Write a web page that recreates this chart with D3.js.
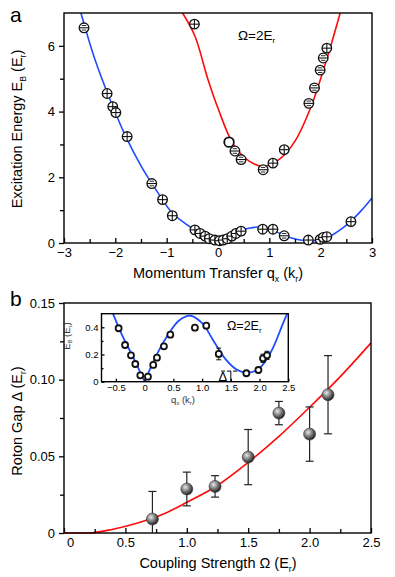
<!DOCTYPE html>
<html>
<head>
<meta charset="utf-8">
<script src="https://cdn.jsdelivr.net/npm/d3@7"></script>
<style>
  body { margin: 0; background: #fff; }
  svg { font-family: "Liberation Sans", Arial, sans-serif; }
  .axis path, .axis line { stroke: #000; stroke-width: 1.3; }
  .axis text { fill: #000; }
</style>
</head>
<body>
<svg width="395" height="577"></svg>
<script>
// ---- panel a: measured points ----
// lower (blue) branch
var lowQ   = [-2.61, -2.16, -2.05, -1.99, -1.77, -1.29, -1.08, -0.89,
              -0.45, -0.35, -0.25, -0.17, -0.06, 0.03, 0.10, 0.18, 0.27, 0.35, 0.45,
              0.87, 1.07, 1.29, 1.76, 1.99, 2.05, 2.12, 2.59];
var lowE   = [6.55, 4.55, 4.15, 3.97, 3.24, 1.81, 1.32, 0.83,
              0.40, 0.29, 0.21, 0.13, 0.09, 0.07, 0.09, 0.13, 0.21, 0.29, 0.36,
              0.42, 0.42, 0.22, 0.09, 0.11, 0.17, 0.19, 0.65];
var lowMark = ["m","p","p","p","p","m","p","p",
              "p","p","p","p","p","p","p","p","p","p","p",
              "p","p","m","p","p","p","p","p"];
// upper (red) branch
var upQ    = [-0.46, 0.215, 0.33, 0.45, 0.88, 1.07, 1.29, 1.77, 1.88, 1.99, 2.05, 2.12];
var upE    = [6.66, 3.07, 2.80, 2.54, 2.23, 2.43, 2.84, 4.25, 4.72, 5.26, 5.63, 5.93];
var upMark = ["p","o","m","m","m","p","p","m","m","m","m","p"];

// fitted dispersion curves
var blueLeftQ  = [-2.67, -2.4, -2.1, -1.8, -1.5, -1.2, -0.9, -0.6, -0.3, 0];
var blueLeftE  = [7.0, 5.6, 4.35, 3.25, 2.35, 1.6, 0.93, 0.55, 0.24, 0];
var blueRightQ = [0, 0.2, 0.4, 0.6, 0.8, 1.0, 1.2, 1.4, 1.6, 1.8, 2.0, 2.2, 2.4, 2.6, 2.8, 3.0];
var blueRightE = [0, 0.19, 0.34, 0.45, 0.485, 0.43, 0.3, 0.17, 0.09, 0.066, 0.1, 0.22, 0.42, 0.68, 1.0, 1.37];
var redQ = [-0.69, -0.45, -0.2, 0, 0.3, 0.6, 0.9, 1.2, 1.5, 1.8, 2.1, 2.38];
var redE = [7.0, 6.3, 5.0, 4.1, 3.0, 2.5, 2.33, 2.55, 3.1, 4.1, 5.5, 7.0];

// ---- panel b: roton gap vs coupling ----
var omega   = [0.72, 1.0, 1.23, 1.5, 1.75, 2.0, 2.15];
var gap     = [0.0091, 0.0287, 0.0304, 0.0495, 0.0782, 0.0645, 0.0902];
var gapErr  = [0.018, 0.011, 0.007, 0.018, 0.0076, 0.0177, 0.0255];
var fitOmega = [0, 0.2, 0.4, 0.6, 0.8, 1.0, 1.25, 1.5, 1.75, 2.0, 2.25, 2.5];
var fitGap   = [0, 0, 0.0025, 0.0065, 0.012, 0.02, 0.031, 0.046, 0.063, 0.082, 0.102, 0.124];

// ---- inset ----
var inQ   = [-0.452, -0.34, -0.237, -0.162, -0.075, 0.058, 0.15, 0.215, 0.336, 0.447,
             0.875, 1.073, 1.29, 1.77, 1.98, 2.06, 2.13];
var inE   = [0.393, 0.27, 0.194, 0.13, 0.047, 0.037, 0.123, 0.177, 0.26, 0.346,
             0.397, 0.412, 0.204, 0.062, 0.086, 0.172, 0.194];
var inErr = [0, 0, 0, 0, 0, 0, 0, 0, 0, 0.02, 0, 0, 0.043, 0, 0, 0.03, 0.03];
var inLeftQ  = [-0.55, -0.4, -0.2, 0];
var inLeftE  = [0.5, 0.35, 0.18, 0];
var inRightQ = [0, 0.2, 0.4, 0.6, 0.8, 1.0, 1.2, 1.4, 1.6, 1.8, 2.0, 2.2, 2.4, 2.48];
var inRightE = [0, 0.19, 0.34, 0.45, 0.485, 0.43, 0.3, 0.17, 0.09, 0.066, 0.1, 0.22, 0.42, 0.5];

var svg = d3.select("svg");
var BLUE = "#1f4dff", RED = "#ff0a0a";

function zip(a, b) { return a.map(function (v, i) { return [v, b[i]]; }); }

// text with subscripts: parts = [[text, isSub], ...]
function richText(g, parts, size) {
  var t = g.append("text").attr("font-size", size).attr("fill", "#000");
  var shifted = false;
  parts.forEach(function (p) {
    var ts = t.append("tspan").text(p[0]);
    if (p[1] && !shifted) { ts.attr("font-size", size * 0.6).attr("dy", size * 0.25); shifted = true; }
    else if (!p[1] && shifted) { ts.attr("dy", -size * 0.25); shifted = false; }
  });
  return t;
}

function frame(g, x0, y0, x1, y1) {
  g.append("rect").attr("x", x0).attr("y", y0).attr("width", x1 - x0).attr("height", y1 - y0)
    .attr("fill", "none").attr("stroke", "#000").attr("stroke-width", 1.4);
}

function axes(g, x, y, opt) {
  var y1 = y.range()[0], x0 = x.range()[0];
  g.append("g").attr("class", "axis").attr("transform", "translate(0," + y1 + ")")
    .call(d3.axisBottom(x).tickValues(opt.xMinor).tickFormat("").tickSizeInner(-opt.minor).tickSizeOuter(0));
  var xa = g.append("g").attr("class", "axis").attr("transform", "translate(0," + y1 + ")")
    .call(d3.axisBottom(x).tickValues(opt.xTicks).tickFormat(opt.xFmt).tickSizeInner(-opt.major).tickSizeOuter(0).tickPadding(opt.pad));
  g.append("g").attr("class", "axis").attr("transform", "translate(" + x0 + ",0)")
    .call(d3.axisLeft(y).tickValues(opt.yMinor).tickFormat("").tickSizeInner(opt.yIn ? -opt.minor : opt.minor).tickSizeOuter(0));
  var ya = g.append("g").attr("class", "axis").attr("transform", "translate(" + x0 + ",0)")
    .call(d3.axisLeft(y).tickValues(opt.yTicks).tickFormat(opt.yFmt).tickSizeInner(opt.yIn ? -opt.major : opt.major).tickSizeOuter(0).tickPadding(opt.ypad));
  g.selectAll(".axis text").attr("font-size", opt.font).attr("font-family", "Liberation Sans, Arial, sans-serif");
  g.selectAll(".axis path").remove();
  return [xa, ya];
}

// ================= panel a =================
var ga = svg.append("g");
var xA = d3.scaleLinear().domain([-3, 3]).range([64, 372]);
var yA = d3.scaleLinear().domain([0, 7]).range([243, 13]);

var lineA = d3.line().x(function (d) { return xA(d[0]); }).y(function (d) { return yA(d[1]); })
  .curve(d3.curveCatmullRom.alpha(0.5));
ga.append("defs").append("clipPath").attr("id", "clipA").append("rect")
  .attr("x", 64).attr("y", 13).attr("width", 308).attr("height", 230);
var curvesA = ga.append("g").attr("clip-path", "url(#clipA)");
[[blueLeftQ, blueLeftE, BLUE], [blueRightQ, blueRightE, BLUE], [redQ, redE, RED]].forEach(function (c) {
  curvesA.append("path").attr("d", lineA(zip(c[0], c[1])))
    .attr("fill", "none").attr("stroke", c[2]).attr("stroke-width", 1.6);
});

axes(ga, xA, yA, {
  xTicks: [-3, -2, -1, 0, 1, 2, 3], xMinor: [-2.5, -1.5, -0.5, 0.5, 1.5, 2.5],
  yTicks: [0, 2, 4, 6], yMinor: [1, 3, 5],
  xFmt: d3.format("d"), yFmt: d3.format("d"),
  major: 5, minor: 4, pad: 5, ypad: 4, font: 13
});
frame(ga, 64, 13, 372, 243);

function markerA(g, q, e, type) {
  var m = g.append("g").attr("transform", "translate(" + xA(q) + "," + yA(e) + ")");
  var r = 4.8;
  m.append("circle").attr("r", r).attr("fill", "#fff").attr("stroke", "#111")
    .attr("stroke-width", type === "o" ? 1.8 : 1.3);
  if (type === "p") {
    m.append("line").attr("x1", -r).attr("x2", r).attr("stroke", "#111").attr("stroke-width", 1.1);
    m.append("line").attr("y1", -r).attr("y2", r).attr("stroke", "#111").attr("stroke-width", 1.1);
  } else if (type === "m") {
    m.append("line").attr("x1", -r).attr("x2", r).attr("stroke", "#111").attr("stroke-width", 1.1);
    [-2.3, 2.3].forEach(function (dy) {
      m.append("line").attr("x1", -2.2).attr("x2", 2.2).attr("y1", dy).attr("y2", dy)
        .attr("stroke", "#111").attr("stroke-width", 0.9);
    });
  }
}
var ptsA = ga.append("g");
lowQ.forEach(function (q, i) { markerA(ptsA, q, lowE[i], lowMark[i]); });
upQ.forEach(function (q, i) { markerA(ptsA, q, upE[i], upMark[i]); });

richText(ga, [["Ω=2E", 0], ["r", 1]], 13.5).attr("x", 238).attr("y", 40);
ga.append("text").attr("x", 10).attr("y", 22).attr("font-size", 21).text("a");
richText(ga, [["Momentum Transfer q", 0], ["x", 1], [" (k", 0], ["r", 1], [")", 0]], 14.5)
  .attr("x", 218).attr("y", 278).attr("text-anchor", "middle");
richText(ga, [["Excitation Energy E", 0], ["B", 1], [" (E", 0], ["r", 1], [")", 0]], 14.5)
  .attr("text-anchor", "middle").attr("transform", "translate(22,129) rotate(-90)");

// ================= panel b =================
var gb = svg.append("g");
var xB = d3.scaleLinear().domain([0, 2.5]).range([64, 371]);
var yB = d3.scaleLinear().domain([0, 0.15]).range([533, 303]);

var defs = svg.append("defs");
var grad = defs.append("radialGradient").attr("id", "ball").attr("cx", "38%").attr("cy", "35%").attr("r", "65%");
grad.append("stop").attr("offset", "0%").attr("stop-color", "#e8e8e8");
grad.append("stop").attr("offset", "55%").attr("stop-color", "#777");
grad.append("stop").attr("offset", "100%").attr("stop-color", "#222");

var lineB = d3.line().x(function (d) { return xB(d[0]); }).y(function (d) { return yB(d[1]); })
  .curve(d3.curveMonotoneX);
gb.append("path").attr("d", lineB(zip(fitOmega, fitGap)))
  .attr("fill", "none").attr("stroke", RED).attr("stroke-width", 1.6);

var axB = axes(gb, xB, yB, {
  xTicks: [0, 0.5, 1, 1.5, 2, 2.5], xMinor: [0.25, 0.75, 1.25, 1.75, 2.25],
  yTicks: [0, 0.05, 0.1, 0.15], yMinor: [0.025, 0.075, 0.125],
  xFmt: function (d) { return d === 0 ? "0" : d3.format(".1f")(d); },
  yFmt: function (d) { return d === 0 ? "0" : d3.format(".2f")(d); },
  major: 5, minor: 4, pad: 5, ypad: 4, font: 13
});
axB[0].selectAll(".tick text").filter(function (d) { return d === 0; }).attr("dx", 6);
frame(gb, 64, 303, 371, 533);

var ptsB = gb.append("g");
omega.forEach(function (o, i) {
  var cx = xB(o), lo = yB(Math.max(0, gap[i] - gapErr[i])), hi = yB(gap[i] + gapErr[i]);
  ptsB.append("line").attr("x1", cx).attr("x2", cx).attr("y1", lo).attr("y2", hi)
    .attr("stroke", "#222").attr("stroke-width", 1.2);
  [lo, hi].forEach(function (yy) {
    if (yy >= 532) return;
    ptsB.append("line").attr("x1", cx - 4).attr("x2", cx + 4).attr("y1", yy).attr("y2", yy)
      .attr("stroke", "#222").attr("stroke-width", 1.2);
  });
  ptsB.append("circle").attr("cx", cx).attr("cy", yB(gap[i])).attr("r", 6)
    .attr("fill", "url(#ball)").attr("stroke", "#333").attr("stroke-width", 0.6);
});

gb.append("text").attr("x", 10).attr("y", 306).attr("font-size", 21).text("b");
richText(gb, [["Coupling Strength Ω (E", 0], ["r", 1], [")", 0]], 14.5)
  .attr("x", 218).attr("y", 568).attr("text-anchor", "middle");
richText(gb, [["Roton Gap Δ (E", 0], ["r", 1], [")", 0]], 14.5)
  .attr("text-anchor", "middle").attr("transform", "translate(22,421) rotate(-90)");

// ================= inset =================
var gi = svg.append("g");
var xI = d3.scaleLinear().domain([-0.75, 2.5]).range([101.5, 288.3]);
var yI = d3.scaleLinear().domain([0, 0.5]).range([381.7, 313.7]);
gi.append("rect").attr("x", 101.5).attr("y", 313.7).attr("width", 186.8).attr("height", 68).attr("fill", "#fff");

defs.append("clipPath").attr("id", "clipI").append("rect")
  .attr("x", 101.5).attr("y", 313.7).attr("width", 186.8).attr("height", 68);
var lineI = d3.line().x(function (d) { return xI(d[0]); }).y(function (d) { return yI(d[1]); })
  .curve(d3.curveCatmullRom.alpha(0.5));
var curvesI = gi.append("g").attr("clip-path", "url(#clipI)");
[[inLeftQ, inLeftE], [inRightQ, inRightE]].forEach(function (c) {
  curvesI.append("path").attr("d", lineI(zip(c[0], c[1])))
    .attr("fill", "none").attr("stroke", BLUE).attr("stroke-width", 1.8);
});

axes(gi, xI, yI, {
  xTicks: [-0.5, 0, 0.5, 1, 1.5, 2, 2.5], xMinor: [],
  yTicks: [0, 0.2, 0.4], yMinor: [0.1, 0.3],
  xFmt: function (d) { return d === 0 ? "0" : d3.format(".1f")(d); },
  yFmt: function (d) { return d === 0 ? "0" : d3.format(".1f")(d); },
  major: 3, minor: 2, pad: 3, ypad: 3, font: 9.5, yIn: true
});
gi.selectAll(".axis text").attr("fill", "#333");
frame(gi, 101.5, 313.7, 288.3, 381.7);

// roton gap marker
var rotonMin = 0.078;
gi.append("line").attr("x1", xI(1.33)).attr("x2", xI(1.62)).attr("y1", yI(rotonMin)).attr("y2", yI(rotonMin))
  .attr("stroke", "#000").attr("stroke-width", 1).attr("stroke-dasharray", "4,2");
gi.append("line").attr("x1", xI(1.5)).attr("x2", xI(1.5)).attr("y1", yI(rotonMin)).attr("y2", yI(0))
  .attr("stroke", "#000").attr("stroke-width", 1);
gi.append("text").attr("x", xI(1.36)).attr("y", 381).attr("font-size", 13).attr("text-anchor", "middle").text("Δ");

var ptsI = gi.append("g");
inQ.forEach(function (q, i) {
  var cx = xI(q), cy = yI(inE[i]);
  if (inErr[i] > 0) {
    var lo = yI(inE[i] - inErr[i]), hi = yI(inE[i] + inErr[i]);
    ptsI.append("line").attr("x1", cx).attr("x2", cx).attr("y1", lo).attr("y2", hi)
      .attr("stroke", "#111").attr("stroke-width", 1);
    [lo, hi].forEach(function (yy) {
      ptsI.append("line").attr("x1", cx - 2.5).attr("x2", cx + 2.5).attr("y1", yy).attr("y2", yy)
        .attr("stroke", "#111").attr("stroke-width", 1);
    });
  }
  ptsI.append("circle").attr("cx", cx).attr("cy", cy).attr("r", 3)
    .attr("fill", "#fff").attr("stroke", "#111").attr("stroke-width", 1.8);
});

richText(gi, [["Ω=2E", 0], ["r", 1]], 12.5).attr("x", 227).attr("y", 330);
richText(gi, [["q", 0], ["x", 1], [" (k", 0], ["r", 1], [")", 0]], 9.5).attr("fill", "#333")
  .attr("x", 183).attr("y", 403).attr("text-anchor", "middle");
richText(gi, [["E", 0], ["B", 1], [" (E", 0], ["r", 1], [")", 0]], 9.5).attr("fill", "#333")
  .attr("text-anchor", "middle").attr("transform", "translate(70,336) rotate(-90)");
</script>
</body>
</html>
